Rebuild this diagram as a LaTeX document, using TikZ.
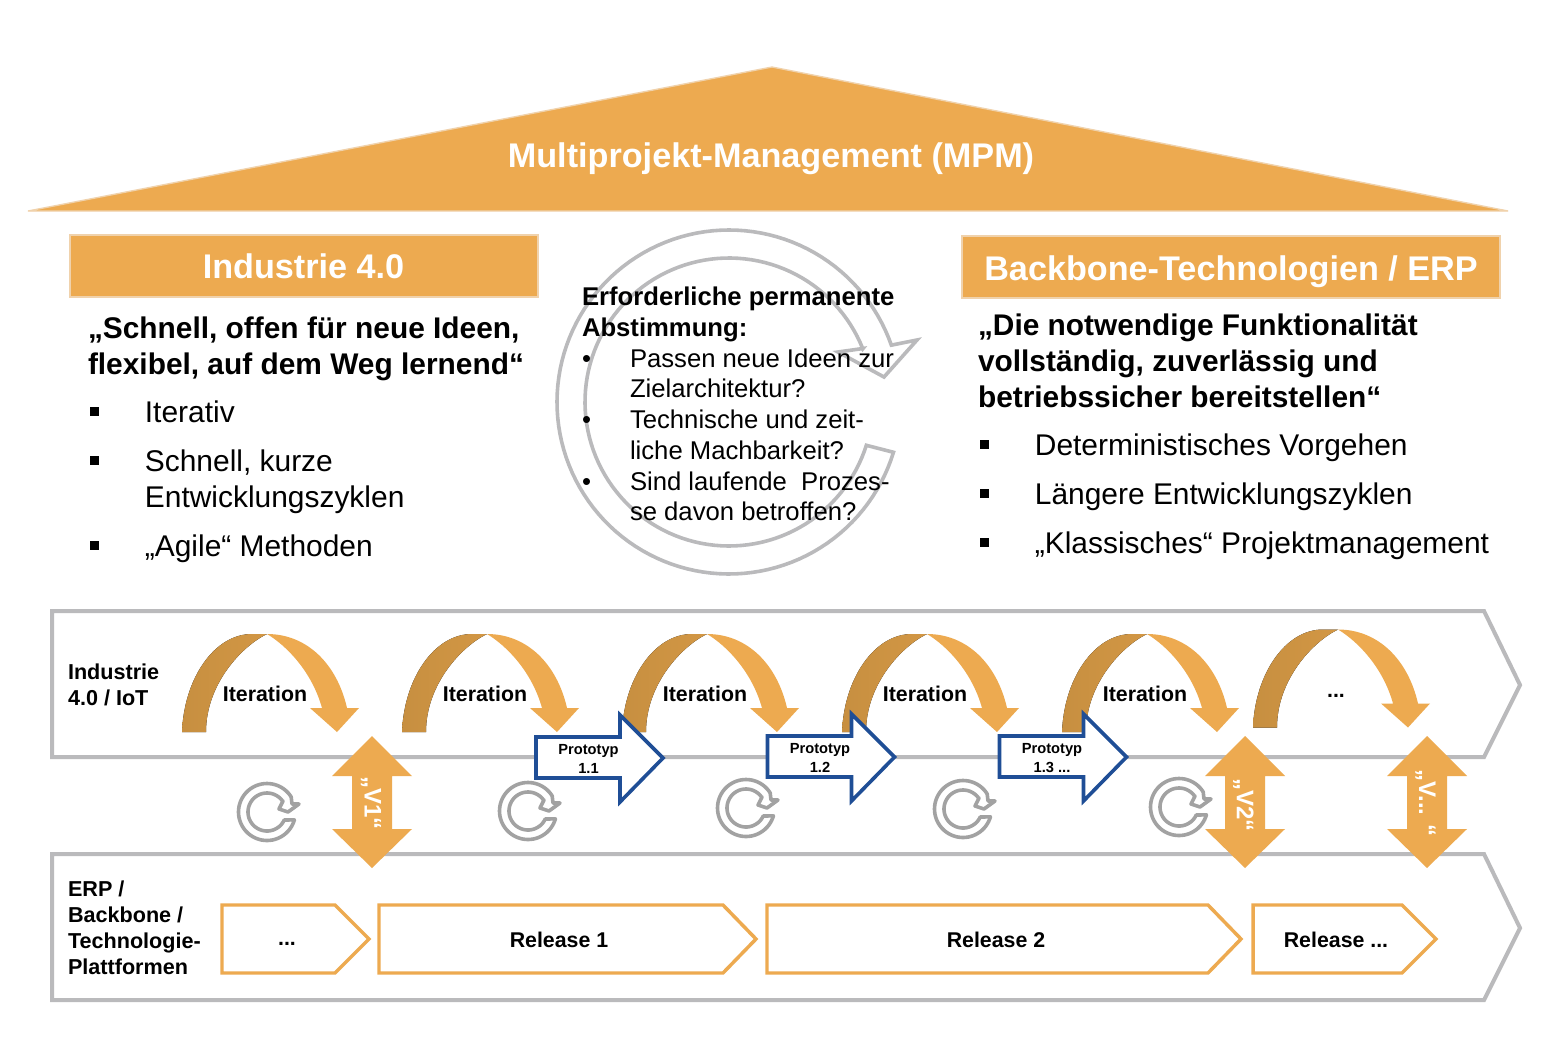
\documentclass[tikz,border=0pt]{standalone}
\usepackage{fontspec}
\setmainfont{Liberation Sans}
\definecolor{org}{HTML}{EDAA50}
\definecolor{orgdark}{HTML}{C78F40}
\definecolor{orgedge}{HTML}{F0D2AC}
\definecolor{band}{HTML}{BABABC}
\definecolor{ringc}{HTML}{A2A2A2}
\definecolor{blu}{HTML}{1F4E96}
\newcommand{\fs}[2]{\fontsize{#1}{#2}\selectfont}
\newcommand{\iter}[2]{%
 \begin{scope}[shift={(#1,#2)}]
 \fill[left color=orgdark,right color=orgdark!70!org] (0,98) .. controls (2,45) and (32,0) .. (70,0)
   -- (85,0) .. controls (60,12) and (24,50) .. (24,98) -- cycle;
 \fill[org] (85,0) .. controls (125,0) and (155,30) .. (165,74) -- (177,74) -- (155,98) -- (128,74) -- (140,74)
   .. controls (130,38) and (105,12) .. (85,0) -- cycle;
 \end{scope}}
\newcommand{\smallring}[2]{%
 \begin{scope}[shift={(#1,#2)}]
 \draw[ringstyle] plot[domain=16:328,samples=60] ({28.5*cos(\x)},{28.5*sin(\x)})
   -- (25,-8) -- (32,-8) -- (21,0) -- (12,-3) -- (16,-11)
   -- plot[domain=325:25,samples=60] ({19*cos(\x)},{19*sin(\x)}) -- cycle;
 \end{scope}}
\newcommand{\dblarrow}[5]{% name, x centre, text, tx, ty
 \fill[org] (#2,736) -- (#2+40,776) -- (#2+20,776) -- (#2+20,829) -- (#2+40,829) -- (#2,868)
   -- (#2-40,829) -- (#2-20,829) -- (#2-20,776) -- (#2-40,776) -- cycle;
 \node[vtext] (#1) at (#4,#5) {#3};}
\newcommand{\protoarrow}[5]{% name, x left, y mid, line1, line2
 \draw[blue arrow] (#2,#3-21) -- (#2+84,#3-21) -- (#2+84,#3-43) -- (#2+127,#3) -- (#2+84,#3+44)
   -- (#2+84,#3+20) -- (#2,#3+20) -- cycle;
 \node[tiny] (#1) at (#2+52.5,#3+1) {#4\\#5};}
\newcommand{\relarrow}[7]{% name, x0, shoulder, tip, text, text x, text y
 \draw[rel arrow] (#2,905) -- (#3,905) -- (#4,939) -- (#3,973) -- (#2,973) -- cycle;
 \node[small] (#1) at (#6,#7) {#5};}
\newcommand{\bu}{\makebox[42.3pt][l]{\hspace*{0.8pt}\rule[5pt]{6.8pt}{6.8pt}}}
\newcommand{\bi}{\hspace*{42.3pt}}
\newcommand{\dotb}{\makebox[36pt][l]{•}}
\newcommand{\dotc}{\hspace*{36pt}}
\tikzset{
 x=0.75pt,y=-0.75pt,
 chevron/.style={draw=band,line width=3pt,line join=miter,fill=white},
 rel arrow/.style={draw=org,line width=2.6pt,fill=white,line join=miter},
 blue arrow/.style={draw=blu,line width=2.7pt,fill=white,line join=miter},
 ringstyle/.style={draw=ringc,line width=2.7pt,line join=round},
 bigring/.style={draw=band,line width=2.7pt,line join=miter},
 orgbox/.style={fill=org,draw=orgedge,line width=1pt},
 txt/.style={inner sep=0pt,outer sep=0pt,text=black},
 headtxt/.style={txt,text=white,font=\bfseries\fs{25.65}{30}},
 quotetxt/.style={txt,anchor=north west,align=left,font=\bfseries\fs{22.4}{26.8}},
 listtxt/.style={txt,anchor=north west,align=left,font=\fs{22.45}{26.8}},
 small/.style={txt,font=\bfseries\fs{16}{19.3}},
 smallleft/.style={small,anchor=north west,align=left,font=\bfseries\fs{16.2}{19.5}},
 midtxt/.style={txt,anchor=north west,align=left,font=\fs{19.25}{23.05}},
 tiny/.style={txt,align=center,font=\bfseries\fs{11}{13.8}},
 vtext/.style={txt,text=white,font=\bfseries\fs{18}{20},rotate=-90},
}
\begin{document}
\begin{tikzpicture}
\useasboundingbox (0,0) rectangle (1552,1038);
\fill[white] (0,0) rectangle (1552,1038);
% roof
\draw[orgbox] (28,211) -- (772,67) -- (1508,211) -- cycle;
\node[headtxt] (roof) at (771,159) {Multiprojekt-Management (MPM)};
% header boxes
\draw[orgbox] (70,235) rectangle (538,297);
\node[headtxt] (ind) at (303.5,266) {Industrie 4.0};
\draw[orgbox] (962,236) rectangle (1500,298);
\node[headtxt] (bb) at (1231,272) {Backbone-Technologien / ERP};
% big cycle arrow
\begin{scope}[shift={(729,402)}]
\draw[bigring] plot[domain=17:340.7,samples=120] ({172*cos(\x)},{172*sin(\x)})
  -- (188,-62) -- (155,-25) -- (109,-50) -- (134,-53.5)
  -- plot[domain=338.3:17.5,samples=120] ({144*cos(\x)},{144*sin(\x)}) -- cycle;
\end{scope}
% left and right columns
\node[quotetxt] (lq) at (88,317) {„Schnell, offen für neue Ideen,\\flexibel, auf dem Weg lernend“};
\node[listtxt] (ll) at (88.5,401) {\bu Iterativ\\[9.9pt]\bu Schnell, kurze\\\bi Entwicklungszyklen\\[9.9pt]\bu „Agile“ Methoden};
\node[quotetxt] (rq) at (978,314) {„Die notwendige Funktionalität\\vollständig, zuverlässig und\\betriebssicher bereitstellen“};
\node[listtxt] (rl) at (978.5,434) {\bu Deterministisches Vorgehen\\[9.9pt]\bu Längere Entwicklungszyklen\\[9.9pt]\bu „Klassisches“ Projektmanagement};
% middle
\node[midtxt] (mid) at (582,287) {\bfseries Erforderliche permanente\\\bfseries Abstimmung:\\\dotb Passen neue Ideen zur\\\dotc Zielarchitektur?\\\dotb Technische und zeit-\\\dotc liche Machbarkeit?\\\dotb Sind laufende\ \ Prozes-\\\dotc se davon betroffen?};
% bands
\draw[chevron] (52,611) -- (1484,611) -- (1520,685) -- (1484,757) -- (52,757) -- cycle;
\draw[chevron] (52,854) -- (1484,854) -- (1520,928) -- (1484,1000) -- (52,1000) -- cycle;
\node[smallleft] (l1) at (68,664) {Industrie\\4.0 / IoT};
\node[smallleft] (l2) at (68,881) {ERP /\\Backbone /\\Technologie-\\Plattformen};
% iterations
\iter{182}{634}\iter{402}{634}\iter{622}{634}\iter{842}{634}\iter{1062}{634}\iter{1253}{629.5}
\node[small] (i1) at (265,694) {Iteration};
\node[small] (i2) at (485,694) {Iteration};
\node[small] (i3) at (705,694) {Iteration};
\node[small] (i4) at (925,694) {Iteration};
\node[small] (i5) at (1145,694) {Iteration};
\node[small] (i6) at (1336,696) {...};
% rings
\smallring{267}{812}\smallring{528}{811}\smallring{746}{808}\smallring{963}{809}\smallring{1179}{807}
% double arrows
\dblarrow{v1}{372}{„V1“}{371}{803}
\dblarrow{v2}{1245}{„V2“}{1243.5}{805}
\dblarrow{v3}{1427}{„V... “}{1425.5}{803}
% prototypes
\protoarrow{p1}{536}{758}{Prototyp}{1.1}
\protoarrow{p2}{767.5}{757}{Prototyp}{1.2}
\protoarrow{p3}{999.5}{757}{Prototyp}{1.3 ...}
% releases
\relarrow{r0}{222}{335}{369}{...}{287}{944}
\relarrow{r1}{379}{723}{756}{Release 1}{559}{940}
\relarrow{r2}{767}{1208}{1241}{Release 2}{996}{940}
\relarrow{r3}{1253}{1402}{1436}{Release ...}{1336}{940}
\end{tikzpicture}
\end{document}
